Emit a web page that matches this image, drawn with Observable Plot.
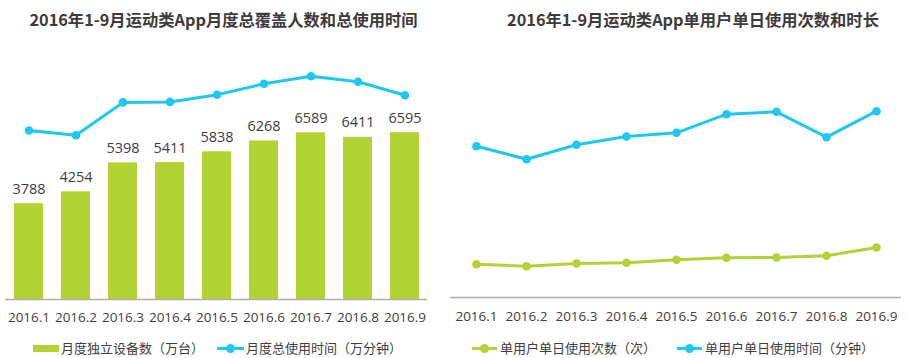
<!DOCTYPE html>
<html>
<head>
<meta charset="utf-8">
<script src="https://cdn.jsdelivr.net/npm/d3@7"></script>
<script src="https://cdn.jsdelivr.net/npm/@observablehq/plot@0.6"></script>
<style>
  body { margin: 0; background: #fff; }
  #root { position: relative; width: 907px; height: 358px; overflow: hidden; background: #fff;
          font-family: "Open Sans", "Noto Sans CJK SC", sans-serif; }
  .title { position: absolute; top: 9px; font: bold 16.3px "Noto Sans CJK SC", sans-serif; color: #3b3b3b;
           text-align: center; line-height: 20px; white-space: nowrap; }
  .abs { position: absolute; }
  .ltext { position: absolute; top: 340px; font: 13px "Noto Sans CJK SC", sans-serif; color: #404040;
           line-height: 16px; white-space: nowrap; }
  .sw-rect { position: absolute; top: 345px; height: 7px; }
  .sw-line { position: absolute; top: 347px; height: 3px; }
  .sw-dot { position: absolute; width: 9px; height: 9px; border-radius: 50%; top: 344px; }
</style>
</head>
<body>
<div id="root">
  <div class="title" style="left:0px;width:447px;">2016年1-9月运动类App月度总覆盖人数和总使用时间</div>
  <div class="title" style="left:450px;width:486px;">2016年1-9月运动类App单用户单日使用次数和时长</div>
  <div id="left" class="abs" style="left:0px;top:40px;"></div>
  <div id="leftLine" class="abs" style="left:0px;top:40px;"></div>
  <div id="right" class="abs" style="left:450px;top:41px;"></div>
  <div id="legend"></div>
</div>
<script>
const months = ["2016.1","2016.2","2016.3","2016.4","2016.5","2016.6","2016.7","2016.8","2016.9"];
// Left panel: monthly unique devices (万台) and monthly total usage time (万分钟, secondary axis, estimated)
const devices = [3788, 4254, 5398, 5411, 5838, 6268, 6589, 6411, 6595];
const totalTime = [1336, 1299, 1558, 1562, 1618, 1705, 1765, 1721, 1615];
// Right panel: per-user daily sessions (次) and per-user daily time (分钟), estimated
const dailyTimes = [3.33, 3.13, 3.40, 3.47, 3.77, 3.97, 4.00, 4.17, 5.00];
const dailyMinutes = [15.13, 13.83, 15.27, 16.10, 16.47, 18.33, 18.57, 16.03, 18.63];

const legendLeft = ["月度独立设备数（万台）", "月度总使用时间（万分钟）"];
const legendRight = ["单用户单日使用次数（次）", "单用户单日使用时间（分钟）"];

const green = "#b3d334";
const blue = "#1fc8f1";
const axisGray = "#adadad";
const textColor = "#404040";

const leftData = months.map((m, i) => ({month: m, devices: devices[i], time: totalTime[i]}));
const rightData = months.map((m, i) => ({month: m, count: dailyTimes[i], minutes: dailyMinutes[i]}));

const baseStyle = {fontFamily: "'Open Sans', 'Noto Sans CJK SC', sans-serif", fontSize: "13px", color: textColor, background: "transparent"};

const leftDims = {width: 440, height: 290, marginTop: 6, marginBottom: 31, marginLeft: 5, marginRight: 13};
const leftX = {type: "band", domain: months, paddingInner: 0.384, paddingOuter: 0.17, label: null, axis: null};

const left = Plot.plot({
  ...leftDims,
  style: baseStyle,
  x: leftX,
  y: {domain: [0, 10000], axis: null},
  marks: [
    Plot.barY(leftData, {x: "month", y: "devices", fill: green}),
    Plot.ruleY([0], {stroke: axisGray, strokeWidth: 1.5}),
    Plot.axisX({tickSize: 0, tickPadding: 13, fontSize: 13.5, fill: textColor, label: null}),
    Plot.text(leftData, {x: "month", y: "devices", text: d => String(d.devices), lineAnchor: "bottom", dy: -10, fontSize: 14.5, fill: textColor})
  ]
});
document.getElementById("left").appendChild(left);

const leftLine = Plot.plot({
  ...leftDims,
  style: baseStyle,
  x: leftX,
  y: {domain: [0, 2000], axis: null},
  marks: [
    Plot.line(leftData, {x: "month", y: "time", stroke: blue, strokeWidth: 3}),
    Plot.dot(leftData, {x: "month", y: "time", r: 4.3, fill: blue})
  ]
});
document.getElementById("leftLine").appendChild(leftLine);

const right = Plot.plot({
  width: 457, height: 289, marginTop: 6, marginBottom: 33, marginLeft: 0, marginRight: 6,
  style: baseStyle,
  x: {type: "point", domain: months, padding: 0.46, label: null, axis: null},
  y: {domain: [0, 25], axis: null},
  marks: [
    Plot.ruleY([0], {stroke: axisGray, strokeWidth: 1.5}),
    Plot.axisX({tickSize: 0, tickPadding: 14, fontSize: 13.5, fill: textColor, label: null}),
    Plot.line(rightData, {x: "month", y: "count", stroke: green, strokeWidth: 3}),
    Plot.dot(rightData, {x: "month", y: "count", r: 4.3, fill: green}),
    Plot.line(rightData, {x: "month", y: "minutes", stroke: blue, strokeWidth: 3}),
    Plot.dot(rightData, {x: "month", y: "minutes", r: 4.3, fill: blue})
  ]
});
document.getElementById("right").appendChild(right);

// Legends
const lg = document.getElementById("legend");
function add(html) { lg.insertAdjacentHTML("beforeend", html); }
add(`<div class="sw-rect" style="left:33px;width:26px;background:${green}"></div>`);
add(`<div class="ltext" style="left:61px;">${legendLeft[0]}</div>`);
add(`<div class="sw-line" style="left:217px;width:27px;background:${blue}"></div>`);
add(`<div class="sw-dot" style="left:226px;background:${blue}"></div>`);
add(`<div class="ltext" style="left:246px;">${legendLeft[1]}</div>`);
add(`<div class="sw-line" style="left:472px;width:25px;background:${green}"></div>`);
add(`<div class="sw-dot" style="left:480px;background:${green}"></div>`);
add(`<div class="ltext" style="left:500px;">${legendRight[0]}</div>`);
add(`<div class="sw-line" style="left:677px;width:25px;background:${blue}"></div>`);
add(`<div class="sw-dot" style="left:685px;background:${blue}"></div>`);
add(`<div class="ltext" style="left:705px;">${legendRight[1]}</div>`);
</script>
</body>
</html>
